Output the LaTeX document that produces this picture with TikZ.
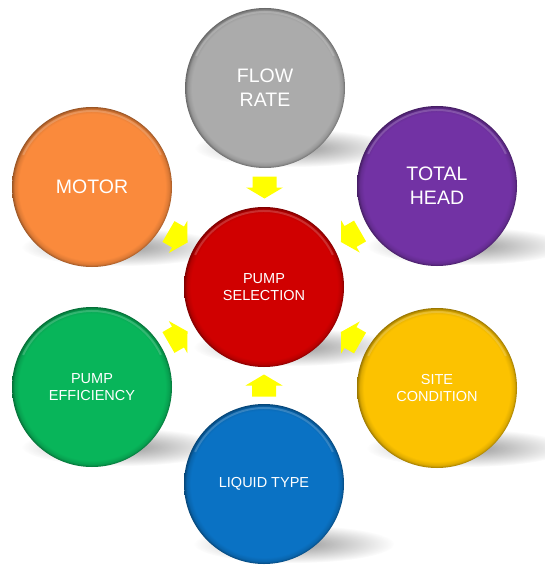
\documentclass[tikz,border=0pt]{standalone}
\usepackage{fontspec}
\setmainfont{Liberation Sans}
\usetikzlibrary{calc,fadings}
\definecolor{cGray}{HTML}{ABABAB}
\definecolor{cPurple}{HTML}{7232A4}
\definecolor{cYellow}{HTML}{FCC200}
\definecolor{cBlue}{HTML}{0A72C4}
\definecolor{cGreen}{HTML}{08B55A}
\definecolor{cOrange}{HTML}{FA8A3C}
\definecolor{cRed}{HTML}{D00000}
\definecolor{cArrow}{HTML}{FFFF00}
\colorlet{basecol}{red}
\pgfdeclareradialshading[basecol]{bevel}{\pgfpoint{0bp}{0bp}}{color(0bp)=(basecol); color(22.9bp)=(basecol); color(24.2bp)=(basecol!88!black); color(25bp)=(basecol!62!black); color(30bp)=(basecol!62!black)}
\tikzfading[name=shadowfade, inner color=transparent!10, outer color=transparent!100]
\tikzset{
  bubble/.style={circle, minimum size=160pt, inner sep=0pt, /utils/exec={\colorlet{basecol}{#1}}, shade, shading=bevel, text=white, align=center,
    path picture={\draw[white, opacity=0.18, line width=2pt] ([shift={(-155:76)}]path picture bounding box.center) arc[start angle=-155, end angle=-25, radius=76];}},
  bigtxt/.style={font=\fontsize{19.5}{24}\selectfont},
  smalltxt/.style={font=\fontsize{14.5}{17}\selectfont},
  shadowblob/.style={fill=black!45, path fading=shadowfade},
  pics/inarrow/.style={code={\fill[cArrow] (-11,-12) -- (0,-12) -- (0,-18.5) -- (11,0) -- (0,18.5) -- (0,12) -- (-11,12) -- cycle;}}
}
\begin{document}
\begin{tikzpicture}[x=1pt,y=-1pt]
\useasboundingbox[fill=white] (0,0) rectangle (545,567);
\coordinate (pF) at (265,88);
\coordinate (pT) at (437,186);
\coordinate (pS) at (437,388);
\coordinate (pL) at (264,484);
\coordinate (pE) at (92,387);
\coordinate (pM) at (92,187);
\coordinate (pC) at (264,287);
% cast shadows
\foreach \p in {pF,pT,pS,pL,pE,pM,pC}
  \fill[shadowblob] ($(\p)+(30,60)$) ellipse [x radius=100, y radius=19];
% circles
\node[bubble=cGray, bigtxt] (flow) at (pF) {FLOW\\RATE};
\node[bubble=cPurple, bigtxt] (head) at (pT) {TOTAL\\HEAD};
\node[bubble=cYellow, smalltxt] (site) at (pS) {SITE\\CONDITION};
\node[bubble=cBlue, smalltxt] (liquid) at (pL) {LIQUID TYPE};
\node[bubble=cGreen, smalltxt] (eff) at (pE) {PUMP\\EFFICIENCY};
\node[bubble=cOrange, bigtxt] (motor) at (pM) {MOTOR};
\node[bubble=cRed, smalltxt] (sel) at (pC) {PUMP\\SELECTION};
% arrows toward the centre
\pic[rotate=-90] at ($(flow)!0.5!(sel)$) {inarrow};
\pic[rotate=-150] at ($(head)!0.5!(sel)$) {inarrow};
\pic[rotate=150] at ($(site)!0.5!(sel)$) {inarrow};
\pic[rotate=90] at ($(liquid)!0.5!(sel)$) {inarrow};
\pic[rotate=30] at ($(eff)!0.5!(sel)$) {inarrow};
\pic[rotate=-30] at ($(motor)!0.5!(sel)$) {inarrow};
\end{tikzpicture}
\end{document}
